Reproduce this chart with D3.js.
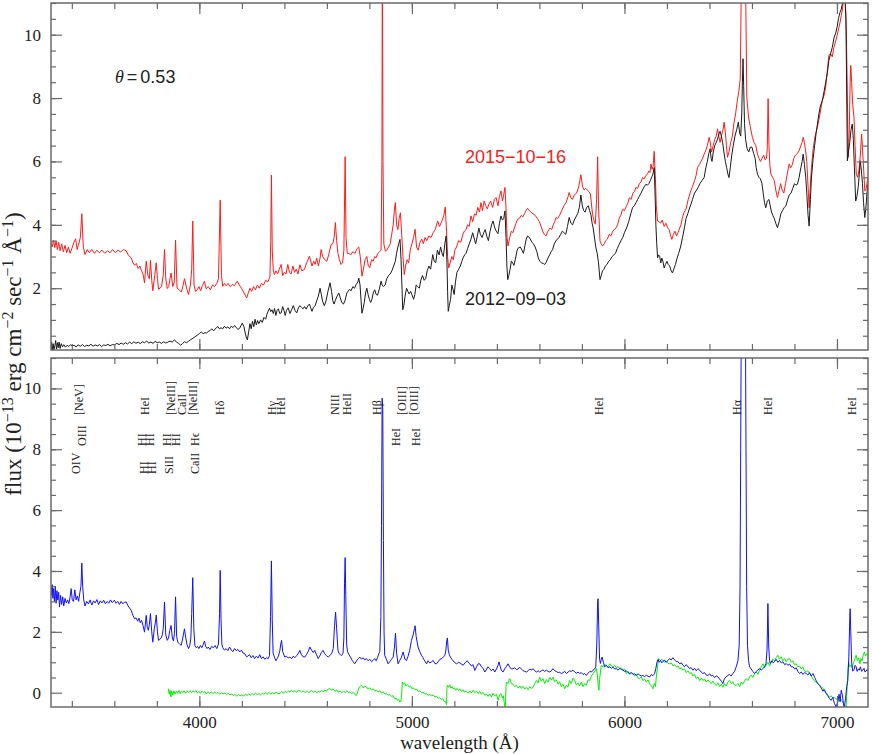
<!DOCTYPE html>
<html><head><meta charset="utf-8">
<script src="https://cdn.jsdelivr.net/npm/d3@7"></script>
<style>body{margin:0;background:#fff}svg{display:block}</style>
</head><body><svg id="c" width="872" height="754"></svg>
<script>
// ---------------- data (wavelength Å, flux 1e-13) ----------------
const spec2015 = [[3302,3.45],[3308,3.30],[3314,3.52],[3320,3.28],[3326,3.50],[3332,3.22],[3338,3.45],[3345,3.18],[3352,3.40],[3360,3.15],[3368,3.35],[3376,3.12],[3384,3.30],[3392,3.10],[3400,3.25],[3410,3.45],[3418,3.56],[3425,3.22],[3432,3.39],[3440,3.60],[3447,4.35],[3454,3.30],[3462,3.06],[3472,3.22],[3482,3.12],[3494,3.22],[3506,3.10],[3518,3.20],[3530,3.12],[3542,3.20],[3555,3.10],[3568,3.18],[3580,3.12],[3592,3.22],[3605,3.12],[3618,3.20],[3630,3.14],[3642,3.22],[3656,3.18],[3665,3.05],[3679,2.96],[3688,2.80],[3695,2.73],[3704,2.78],[3712,2.62],[3720,2.70],[3728,2.55],[3735,2.45],[3742,2.17],[3750,2.85],[3758,2.40],[3765,2.30],[3770,2.88],[3776,2.25],[3781,1.92],[3790,2.40],[3797,2.80],[3803,2.30],[3808,1.97],[3815,2.00],[3822,2.05],[3830,2.40],[3836,3.22],[3842,2.30],[3849,1.99],[3856,2.05],[3862,2.30],[3867,2.48],[3875,2.05],[3882,2.20],[3888,3.52],[3895,2.00],[3905,1.95],[3915,1.88],[3922,2.05],[3930,2.30],[3940,2.00],[3949,1.80],[3958,2.10],[3964,2.60],[3969,4.12],[3975,2.10],[3982,1.90],[3990,1.95],[3998,2.05],[4006,1.92],[4014,2.08],[4024,2.22],[4032,1.98],[4042,2.05],[4052,1.95],[4062,2.10],[4072,2.05],[4082,2.15],[4090,2.30],[4098,4.78],[4104,2.40],[4110,2.06],[4118,2.15],[4126,2.08],[4135,2.15],[4145,2.05],[4155,2.12],[4165,2.08],[4178,2.22],[4188,2.10],[4198,2.00],[4210,1.85],[4218,1.75],[4223,1.69],[4230,1.85],[4238,2.00],[4246,1.90],[4255,2.05],[4264,1.95],[4273,2.10],[4282,2.00],[4292,2.15],[4302,2.10],[4312,2.25],[4322,2.20],[4332,2.35],[4336,3.5],[4339,5.57],[4343,3.2],[4348,2.55],[4353,2.43],[4360,2.55],[4368,2.45],[4376,2.60],[4385,2.75],[4392,2.40],[4400,2.50],[4408,2.45],[4416,2.75],[4424,2.50],[4432,2.45],[4440,2.70],[4448,2.50],[4456,2.60],[4464,2.45],[4473,2.74],[4482,2.55],[4494,2.59],[4505,2.80],[4518,3.01],[4530,2.70],[4538,2.85],[4545,2.75],[4552,2.95],[4560,2.70],[4568,2.95],[4573,3.22],[4580,3.00],[4590,2.90],[4600,2.85],[4610,3.10],[4620,3.38],[4628,3.40],[4634,3.60],[4640,4.07],[4646,3.50],[4652,3.10],[4659,2.90],[4666,2.75],[4674,2.80],[4680,3.20],[4686,6.15],[4690,3.60],[4696,3.10],[4704,3.10],[4712,3.05],[4722,3.15],[4732,3.10],[4742,3.25],[4750,3.30],[4757,3.00],[4765,2.38],[4772,2.60],[4780,2.90],[4788,3.00],[4795,2.70],[4802,2.65],[4810,2.90],[4818,2.85],[4825,3.00],[4831,2.96],[4840,3.10],[4848,3.15],[4855,3.20],[4859,6],[4861,13],[4864,6],[4868,3.40],[4875,3.17],[4882,3.20],[4890,3.30],[4898,3.40],[4905,3.70],[4912,4.00],[4918,4.50],[4922,4.70],[4928,4.00],[4934,3.85],[4940,4.20],[4946,4.38],[4952,3.70],[4958,3.00],[4964,2.43],[4970,2.70],[4978,2.90],[4985,2.80],[4992,3.20],[5000,3.40],[5008,3.60],[5015,3.86],[5022,3.30],[5030,3.20],[5038,3.45],[5046,3.55],[5054,3.40],[5062,3.60],[5070,3.50],[5080,3.65],[5090,3.60],[5100,3.75],[5110,3.85],[5121,4.12],[5130,3.95],[5140,4.10],[5150,4.30],[5157,4.56],[5163,3.80],[5168,3.00],[5173,2.64],[5180,2.80],[5188,3.00],[5195,2.90],[5202,3.20],[5210,3.30],[5220,3.50],[5230,3.45],[5240,3.70],[5247,3.80],[5255,3.85],[5262,4.00],[5270,3.95],[5278,4.28],[5286,4.10],[5295,4.35],[5302,4.30],[5310,4.55],[5318,4.40],[5325,4.70],[5332,4.45],[5340,4.75],[5348,4.60],[5355,4.50],[5362,4.65],[5370,4.75],[5380,4.55],[5388,4.80],[5396,4.86],[5405,4.60],[5412,4.90],[5419,5.07],[5426,4.75],[5432,4.95],[5438,5.18],[5443,4.50],[5448,3.60],[5452,3.33],[5460,3.60],[5468,3.80],[5475,3.75],[5482,3.90],[5490,4.05],[5497,4.17],[5505,4.20],[5515,4.30],[5522,4.25],[5530,4.35],[5537,4.45],[5544,4.52],[5552,4.45],[5560,4.40],[5570,4.35],[5580,4.30],[5590,4.20],[5600,4.10],[5608,3.95],[5615,3.80],[5623,3.70],[5631,3.65],[5640,3.80],[5650,3.90],[5658,3.85],[5665,4.00],[5672,4.10],[5678,4.23],[5686,4.20],[5695,4.30],[5705,4.45],[5715,4.60],[5725,4.70],[5733,4.85],[5740,5.02],[5748,4.85],[5755,4.80],[5765,4.95],[5775,5.00],[5785,5.20],[5795,5.58],[5803,5.20],[5810,5.10],[5818,5.15],[5825,5.10],[5833,5.05],[5840,4.97],[5850,4.33],[5858,4.10],[5863,4.02],[5869,4.8],[5874,6.15],[5878,4.6],[5885,3.49],[5891,3.40],[5897,3.33],[5905,3.40],[5912,3.50],[5920,3.55],[5928,3.70],[5936,3.65],[5945,3.80],[5953,3.85],[5960,3.90],[5968,4.00],[5975,4.20],[5983,4.30],[5991,4.49],[6000,4.45],[6010,4.60],[6017,4.70],[6023,4.86],[6031,4.80],[6040,5.00],[6047,5.05],[6054,5.18],[6062,5.15],[6070,5.30],[6078,5.35],[6085,5.49],[6093,5.45],[6100,5.55],[6108,5.60],[6115,5.70],[6120,5.65],[6125,5.92],[6130,5.75],[6135,5.85],[6140,6.32],[6145,5.60],[6150,4.60],[6156,4.12],[6163,4.10],[6170,4.05],[6178,4.15],[6187,3.95],[6195,4.05],[6203,3.91],[6210,3.85],[6216,3.70],[6223,3.54],[6230,3.70],[6238,3.80],[6245,3.65],[6252,3.75],[6260,3.90],[6266,4.00],[6273,4.23],[6281,4.40],[6290,4.50],[6300,4.80],[6312,5.07],[6320,5.20],[6330,5.40],[6337,5.55],[6344,5.81],[6352,5.90],[6360,6.00],[6368,6.10],[6375,6.23],[6383,6.35],[6390,6.50],[6399,6.76],[6405,6.55],[6410,6.30],[6418,6.50],[6425,6.70],[6432,6.80],[6438,7.03],[6444,6.80],[6450,6.60],[6458,6.85],[6464,7.00],[6469,7.24],[6475,6.90],[6480,6.50],[6485,6.13],[6492,6.30],[6500,6.60],[6508,6.80],[6515,7.20],[6523,7.50],[6531,7.92],[6538,8.20],[6545,8.60],[6549,11],[6553,16],[6566,16],[6571,11],[6576,8.0],[6584,7.40],[6592,7.10],[6602,6.76],[6610,6.60],[6618,6.50],[6626,6.23],[6633,6.10],[6640,6.00],[6648,6.10],[6655,6.20],[6662,6.05],[6668,6.10],[6672,6.40],[6676,7.98],[6680,6.50],[6684,5.90],[6689,5.60],[6697,5.50],[6705,5.40],[6712,5.10],[6720,4.86],[6728,5.10],[6735,5.30],[6742,5.10],[6750,5.00],[6758,5.30],[6766,5.60],[6775,5.92],[6782,5.80],[6790,5.90],[6797,6.10],[6805,6.20],[6814,6.25],[6822,6.34],[6830,6.50],[6836,6.60],[6841,6.76],[6847,6.60],[6853,6.30],[6858,6.00],[6864,5.20],[6869,4.54],[6874,5.20],[6880,5.80],[6888,6.40],[6897,6.80],[6908,7.08],[6920,7.50],[6931,7.92],[6940,8.10],[6947,8.35],[6955,8.90],[6962,9.35],[6970,9.40],[6978,9.30],[6986,9.61],[6994,9.80],[7001,9.98],[7008,10.20],[7015,10.40],[7020,10.60],[7025,10.78],[7031,11.10],[7037,11.30],[7041,10.80],[7044,10.14],[7048,8.50],[7053,6.13],[7058,7.00],[7062,8.50],[7065,9.03],[7069,8.50],[7074,7.80],[7080,7.40],[7085,6.50],[7091,5.60],[7097,5.50],[7103,5.70],[7110,6.20],[7116,6.87],[7121,6.30],[7126,5.70],[7131,5.07],[7136,5.10],[7141,5.30],[7146,5.50]];

const spec2012 = [[3302,0.05],[3305,0.30],[3308,0.02],[3312,0.25],[3316,0.05],[3320,0.18],[3324,0.35],[3328,0.08],[3332,0.28],[3336,0.12],[3340,0.30],[3345,0.10],[3350,0.25],[3356,0.15],[3362,0.22],[3370,0.14],[3378,0.20],[3386,0.16],[3394,0.22],[3402,0.17],[3410,0.20],[3420,0.15],[3430,0.21],[3440,0.17],[3450,0.22],[3460,0.16],[3470,0.20],[3480,0.18],[3490,0.23],[3500,0.17],[3510,0.21],[3520,0.18],[3530,0.22],[3540,0.16],[3550,0.21],[3560,0.19],[3570,0.23],[3580,0.18],[3590,0.22],[3601,0.21],[3612,0.26],[3622,0.22],[3632,0.27],[3642,0.23],[3652,0.28],[3662,0.24],[3672,0.30],[3682,0.25],[3692,0.31],[3702,0.26],[3712,0.30],[3722,0.25],[3732,0.31],[3742,0.28],[3752,0.33],[3762,0.27],[3772,0.30],[3782,0.26],[3792,0.32],[3802,0.28],[3812,0.30],[3822,0.26],[3832,0.31],[3842,0.27],[3852,0.30],[3862,0.33],[3872,0.30],[3883,0.37],[3892,0.30],[3902,0.26],[3912,0.20],[3920,0.25],[3930,0.31],[3940,0.28],[3950,0.33],[3960,0.38],[3970,0.42],[3980,0.47],[3993,0.53],[4002,0.58],[4010,0.62],[4018,0.56],[4026,0.60],[4034,0.58],[4042,0.64],[4050,0.66],[4058,0.72],[4066,0.66],[4074,0.70],[4080,0.76],[4087,0.79],[4094,0.72],[4102,0.75],[4110,0.72],[4118,0.80],[4126,0.74],[4134,0.78],[4142,0.72],[4150,0.80],[4158,0.76],[4166,0.82],[4174,0.75],[4182,0.70],[4189,0.73],[4196,0.82],[4202,0.90],[4210,0.78],[4216,0.58],[4222,0.42],[4226,0.37],[4232,0.62],[4238,0.88],[4244,0.72],[4250,0.96],[4256,0.78],[4262,1.02],[4268,0.84],[4274,0.98],[4280,0.88],[4288,1.00],[4296,0.92],[4304,1.08],[4312,1.02],[4318,1.18],[4324,1.28],[4330,1.37],[4336,1.26],[4342,1.32],[4348,1.20],[4354,1.36],[4360,1.14],[4366,1.30],[4372,1.35],[4378,1.20],[4385,1.22],[4392,1.42],[4398,1.30],[4404,1.14],[4410,1.30],[4418,1.38],[4426,1.20],[4434,1.32],[4442,1.45],[4450,1.30],[4458,1.22],[4466,1.38],[4473,1.45],[4480,1.40],[4488,1.35],[4495,1.42],[4502,1.34],[4510,1.44],[4518,1.50],[4524,1.38],[4530,1.27],[4537,1.40],[4545,1.45],[4552,1.60],[4560,1.75],[4568,2.00],[4574,1.80],[4580,1.58],[4588,1.45],[4596,1.60],[4605,1.90],[4615,2.17],[4622,1.90],[4628,1.60],[4634,1.50],[4640,1.62],[4648,1.75],[4656,1.85],[4663,1.70],[4670,1.55],[4678,1.50],[4685,1.60],[4694,1.85],[4706,1.96],[4714,1.92],[4722,2.05],[4730,2.00],[4738,2.12],[4746,2.20],[4750,2.32],[4756,2.10],[4761,1.60],[4765,1.21],[4770,1.35],[4776,1.55],[4782,1.85],[4788,2.00],[4794,1.80],[4800,1.65],[4806,1.55],[4812,1.65],[4818,1.85],[4825,1.95],[4832,1.80],[4838,1.78],[4846,1.95],[4855,2.22],[4860,2.10],[4866,2.05],[4874,2.10],[4882,2.30],[4890,2.40],[4898,2.45],[4906,2.55],[4914,2.70],[4922,2.85],[4928,3.10],[4933,3.27],[4938,3.40],[4944,3.54],[4949,2.90],[4953,2.10],[4957,1.32],[4962,1.45],[4968,1.75],[4975,2.00],[4981,1.90],[4987,1.82],[4994,1.90],[5000,1.80],[5008,1.65],[5014,1.80],[5020,2.10],[5028,2.05],[5035,2.00],[5042,2.25],[5050,2.40],[5058,2.25],[5065,2.30],[5072,2.55],[5080,2.70],[5088,2.60],[5098,3.06],[5105,2.85],[5112,2.80],[5120,3.20],[5128,3.05],[5135,3.30],[5142,3.10],[5148,3.00],[5155,3.40],[5161,3.65],[5165,2.80],[5168,1.90],[5171,1.27],[5176,1.45],[5182,1.65],[5188,2.10],[5194,1.95],[5199,1.80],[5205,2.20],[5212,2.50],[5220,2.60],[5228,2.70],[5235,2.85],[5241,2.96],[5248,3.05],[5255,3.10],[5262,3.25],[5270,3.40],[5278,3.55],[5286,3.75],[5294,3.55],[5300,3.40],[5308,3.65],[5315,3.90],[5322,3.70],[5330,3.60],[5338,3.75],[5345,3.85],[5352,3.65],[5360,3.50],[5368,3.80],[5375,4.00],[5382,4.12],[5390,3.90],[5397,3.80],[5405,3.72],[5412,4.05],[5419,4.28],[5426,4.15],[5432,4.20],[5438,4.44],[5443,3.60],[5447,2.70],[5451,2.27],[5456,2.40],[5462,2.60],[5468,2.85],[5474,2.80],[5480,2.72],[5488,2.95],[5495,3.20],[5502,3.28],[5510,3.30],[5518,3.20],[5525,3.10],[5532,3.35],[5538,3.55],[5544,3.65],[5550,3.62],[5557,3.55],[5565,3.45],[5572,3.40],[5580,3.30],[5588,3.15],[5595,2.95],[5602,2.85],[5610,2.80],[5618,2.78],[5625,2.75],[5632,2.82],[5640,2.95],[5648,3.05],[5655,3.15],[5662,3.22],[5670,3.40],[5677,3.49],[5685,3.55],[5692,3.60],[5700,3.70],[5708,3.80],[5716,3.75],[5724,3.70],[5732,3.95],[5740,4.23],[5748,4.05],[5756,4.00],[5764,4.15],[5772,4.25],[5780,4.35],[5788,4.55],[5795,4.94],[5802,4.60],[5808,4.45],[5815,4.40],[5822,4.55],[5830,4.60],[5836,4.45],[5842,4.33],[5848,4.05],[5853,3.90],[5860,3.55],[5866,3.27],[5872,3.10],[5878,2.80],[5885,2.27],[5891,2.40],[5897,2.55],[5904,2.60],[5910,2.70],[5918,2.75],[5926,2.85],[5934,2.90],[5942,3.00],[5950,3.05],[5958,3.10],[5966,3.25],[5975,3.38],[5984,3.50],[5992,3.60],[6000,3.75],[6010,3.90],[6020,4.10],[6030,4.35],[6038,4.54],[6046,4.60],[6055,4.70],[6062,4.80],[6070,4.90],[6078,5.00],[6085,5.10],[6093,5.20],[6101,5.28],[6108,5.25],[6115,5.30],[6122,5.40],[6128,5.50],[6134,5.60],[6140,5.81],[6144,5.00],[6148,4.00],[6152,3.40],[6156,2.96],[6161,3.05],[6166,3.00],[6171,2.80],[6176,2.95],[6181,2.85],[6187,2.64],[6193,2.75],[6200,2.85],[6206,2.75],[6213,2.70],[6220,2.55],[6226,2.48],[6232,2.60],[6240,2.75],[6248,2.95],[6255,3.10],[6264,3.30],[6273,3.59],[6282,3.90],[6290,4.20],[6298,4.35],[6305,4.50],[6313,4.65],[6320,4.80],[6330,5.00],[6340,5.10],[6348,5.20],[6355,5.30],[6365,5.40],[6375,5.49],[6383,5.80],[6390,6.00],[6397,6.25],[6403,6.40],[6408,6.10],[6412,6.00],[6418,6.30],[6425,6.50],[6432,6.60],[6438,6.70],[6445,6.87],[6450,6.95],[6456,6.80],[6462,6.60],[6468,6.30],[6475,6.00],[6481,5.80],[6487,5.60],[6492,5.49],[6498,5.80],[6505,6.20],[6512,6.50],[6520,6.80],[6528,7.00],[6536,7.24],[6542,6.90],[6547,6.80],[6552,7.50],[6555,8.50],[6558,9.24],[6561,8.40],[6565,7.20],[6570,6.70],[6577,6.40],[6585,6.30],[6592,6.45],[6600,6.45],[6608,6.25],[6615,6.10],[6620,5.80],[6626,5.60],[6633,5.50],[6640,5.45],[6647,5.30],[6653,5.00],[6659,4.70],[6665,4.54],[6672,4.75],[6680,4.80],[6686,4.60],[6692,4.40],[6698,4.30],[6705,4.20],[6712,4.05],[6720,3.91],[6728,4.10],[6736,4.35],[6744,4.45],[6752,4.55],[6760,4.60],[6768,4.80],[6776,4.95],[6784,5.00],[6792,5.15],[6800,5.30],[6807,5.25],[6814,5.28],[6822,5.50],[6830,5.80],[6836,6.00],[6841,6.23],[6847,5.90],[6853,5.50],[6858,5.00],[6864,4.30],[6869,3.96],[6875,4.80],[6880,5.50],[6888,6.10],[6895,6.50],[6902,6.90],[6908,7.18],[6915,7.50],[6922,7.75],[6931,7.92],[6939,8.20],[6947,8.50],[6955,8.80],[6962,9.19],[6970,9.40],[6978,9.60],[6986,9.90],[6994,10.05],[7001,10.25],[7007,10.51],[7014,10.70],[7020,10.80],[7026,11.00],[7032,11.20],[7038,11.10],[7042,10.50],[7046,8.00],[7049,6.02],[7054,6.30],[7060,6.60],[7066,7.00],[7072,7.18],[7077,6.70],[7082,5.80],[7088,4.75],[7094,4.90],[7100,5.20],[7105,5.60],[7110,6.02],[7115,5.70],[7120,5.30],[7125,4.70],[7131,4.23],[7137,4.60],[7141,5.00],[7146,5.30]];

const specBlue = [[3302,3.47],[3305,3.20],[3308,3.55],[3311,3.10],[3314,3.42],[3318,3.00],[3322,3.50],[3326,2.94],[3330,3.35],[3334,3.05],[3338,3.30],[3342,2.82],[3347,3.20],[3352,2.90],[3357,3.15],[3362,2.85],[3368,3.10],[3374,2.95],[3380,3.05],[3386,2.93],[3392,3.15],[3397,3.42],[3402,3.05],[3408,3.00],[3414,3.38],[3420,3.05],[3426,3.18],[3432,3.00],[3438,3.30],[3443,3.50],[3447,4.26],[3451,3.50],[3456,3.05],[3462,2.85],[3470,3.00],[3478,2.92],[3486,3.05],[3494,2.88],[3502,3.02],[3510,2.95],[3518,3.06],[3526,2.90],[3534,3.02],[3542,2.95],[3550,3.04],[3558,2.92],[3566,3.00],[3574,2.94],[3582,3.05],[3590,2.96],[3600,3.04],[3608,2.94],[3616,3.00],[3624,2.90],[3632,3.00],[3640,2.92],[3648,2.98],[3656,2.98],[3664,2.86],[3672,2.78],[3679,2.71],[3687,2.55],[3695,2.43],[3702,2.46],[3710,2.35],[3716,2.45],[3722,2.30],[3728,2.38],[3735,2.21],[3742,1.99],[3750,2.54],[3755,2.15],[3760,2.05],[3765,2.25],[3770,2.60],[3776,2.00],[3781,1.66],[3788,2.10],[3793,2.30],[3797,2.55],[3803,2.00],[3808,1.72],[3814,1.75],[3820,1.80],[3826,1.90],[3830,2.10],[3836,2.98],[3842,1.90],[3849,1.72],[3855,1.80],[3861,2.05],[3867,2.21],[3873,1.80],[3878,1.70],[3883,1.95],[3888,3.15],[3893,1.85],[3899,1.65],[3905,1.62],[3910,1.58],[3915,1.56],[3922,1.80],[3930,2.10],[3936,1.80],[3942,1.58],[3949,1.45],[3955,1.55],[3960,1.80],[3964,2.60],[3969,3.78],[3974,2.10],[3979,1.55],[3985,1.48],[3992,1.52],[3998,1.45],[4005,1.55],[4012,1.48],[4018,1.58],[4024,1.70],[4030,1.52],[4036,1.45],[4042,1.50],[4050,1.42],[4058,1.52],[4066,1.48],[4074,1.55],[4082,1.45],[4090,1.60],[4095,2.60],[4098,4.02],[4102,2.40],[4106,1.60],[4110,1.48],[4118,1.40],[4126,1.45],[4134,1.38],[4142,1.50],[4150,1.40],[4158,1.35],[4166,1.45],[4174,1.38],[4182,1.42],[4190,1.34],[4198,1.40],[4206,1.30],[4214,1.28],[4222,1.18],[4228,1.20],[4236,1.25],[4244,1.15],[4252,1.22],[4260,1.12],[4268,1.20],[4276,1.14],[4284,1.25],[4292,1.12],[4300,1.18],[4308,1.10],[4316,1.15],[4324,1.12],[4330,1.22],[4335,2.50],[4339,4.33],[4343,2.40],[4347,1.30],[4353,1.17],[4360,1.05],[4366,1.12],[4372,1.20],[4379,1.39],[4383,1.60],[4387,1.72],[4392,1.35],[4402,1.17],[4410,1.20],[4418,1.14],[4426,1.17],[4434,1.12],[4442,1.20],[4449,1.15],[4458,1.22],[4466,1.30],[4473,1.39],[4480,1.25],[4488,1.18],[4496,1.17],[4504,1.25],[4512,1.35],[4520,1.50],[4528,1.40],[4536,1.32],[4543,1.39],[4551,1.25],[4559,1.12],[4566,1.20],[4574,1.32],[4582,1.39],[4590,1.28],[4598,1.22],[4606,1.17],[4614,1.22],[4622,1.28],[4630,1.45],[4636,2.20],[4641,2.65],[4646,2.10],[4652,1.40],[4658,1.28],[4664,1.25],[4669,1.22],[4676,1.30],[4680,1.80],[4683,3.60],[4686,4.44],[4689,3.20],[4693,1.60],[4697,1.35],[4704,1.25],[4711,1.17],[4720,1.05],[4731,0.95],[4740,1.05],[4748,1.12],[4755,1.17],[4763,1.10],[4770,1.15],[4778,1.08],[4786,1.12],[4794,1.05],[4802,1.10],[4810,1.02],[4817,1.06],[4825,1.12],[4832,1.05],[4838,1.15],[4844,1.28],[4849,1.35],[4854,2.50],[4857,5.50],[4860,9.68],[4863,9.30],[4866,5.00],[4869,2.00],[4872,1.23],[4880,1.10],[4888,0.95],[4896,1.02],[4904,1.10],[4912,1.17],[4918,1.50],[4923,1.96],[4928,1.30],[4935,0.95],[4942,1.05],[4950,1.15],[4959,1.34],[4967,1.10],[4975,1.06],[4982,1.20],[4990,1.40],[4998,1.72],[5006,1.90],[5012,2.10],[5015,2.20],[5020,1.85],[5029,1.50],[5037,1.35],[5045,1.23],[5052,1.15],[5060,1.05],[5069,0.95],[5076,1.05],[5084,0.98],[5092,1.01],[5100,1.06],[5108,0.96],[5116,0.95],[5124,1.02],[5132,1.10],[5140,1.12],[5147,1.17],[5155,1.22],[5160,1.40],[5164,1.70],[5167,1.80],[5171,1.40],[5176,1.25],[5181,1.17],[5190,1.08],[5200,1.00],[5210,0.95],[5220,1.00],[5230,0.96],[5241,0.90],[5250,0.98],[5260,1.05],[5272,0.95],[5280,0.88],[5288,0.92],[5296,0.73],[5304,0.85],[5312,0.95],[5319,0.95],[5327,0.85],[5335,0.80],[5343,0.68],[5350,0.75],[5358,0.85],[5366,0.79],[5374,0.72],[5382,0.78],[5390,0.68],[5398,0.78],[5405,0.90],[5410,1.01],[5416,0.85],[5422,0.72],[5429,0.68],[5436,0.78],[5444,0.85],[5452,0.95],[5460,0.85],[5468,0.78],[5476,0.79],[5484,0.82],[5492,0.76],[5500,0.78],[5507,0.84],[5515,0.78],[5523,0.72],[5531,0.70],[5539,0.68],[5547,0.72],[5555,0.78],[5563,0.74],[5570,0.79],[5578,0.72],[5586,0.68],[5594,0.72],[5601,0.68],[5609,0.72],[5617,0.75],[5625,0.70],[5633,0.74],[5641,0.70],[5649,0.68],[5656,0.72],[5664,0.79],[5672,0.72],[5680,0.70],[5688,0.66],[5695,0.68],[5703,0.62],[5711,0.66],[5719,0.70],[5727,0.63],[5735,0.68],[5743,0.72],[5750,0.70],[5758,0.74],[5766,0.68],[5774,0.64],[5782,0.68],[5789,0.63],[5797,0.66],[5805,0.60],[5813,0.63],[5821,0.57],[5829,0.64],[5837,0.70],[5845,0.68],[5852,0.74],[5860,0.78],[5865,0.85],[5870,1.60],[5874,3.00],[5876,3.09],[5879,2.20],[5883,1.10],[5887,0.96],[5891,1.10],[5895,1.17],[5901,1.00],[5907,0.85],[5915,0.90],[5923,0.82],[5931,0.85],[5938,0.80],[5946,0.84],[5954,0.78],[5962,0.79],[5970,0.74],[5978,0.80],[5986,0.76],[5993,0.74],[6001,0.70],[6009,0.72],[6017,0.66],[6025,0.63],[6033,0.66],[6040,0.60],[6048,0.62],[6056,0.57],[6064,0.62],[6072,0.58],[6080,0.55],[6087,0.57],[6095,0.52],[6103,0.58],[6111,0.54],[6119,0.52],[6127,0.60],[6134,0.56],[6142,0.63],[6148,0.80],[6153,1.00],[6158,1.09],[6164,1.00],[6170,1.06],[6176,0.98],[6181,1.02],[6188,1.08],[6196,1.00],[6205,1.06],[6212,1.12],[6220,1.08],[6228,1.15],[6236,1.08],[6244,1.02],[6252,1.02],[6260,0.95],[6268,0.98],[6275,0.90],[6283,0.86],[6291,0.92],[6299,0.85],[6307,0.80],[6314,0.82],[6322,0.74],[6330,0.80],[6338,0.72],[6346,0.79],[6354,0.74],[6361,0.68],[6369,0.63],[6377,0.66],[6385,0.58],[6393,0.57],[6401,0.62],[6408,0.55],[6416,0.57],[6424,0.50],[6432,0.55],[6440,0.52],[6448,0.45],[6456,0.38],[6463,0.30],[6470,0.45],[6478,0.52],[6487,0.57],[6494,0.60],[6502,0.55],[6510,0.63],[6518,0.70],[6526,0.85],[6534,1.05],[6540,1.56],[6544,3.50],[6547,8.00],[6551,14.0],[6560,18.0],[6568,14.0],[6572,8.00],[6575,3.50],[6579,1.56],[6584,1.05],[6589,0.85],[6596,0.78],[6604,0.70],[6612,0.63],[6620,0.70],[6628,0.75],[6636,0.79],[6644,0.74],[6652,0.80],[6659,0.85],[6666,0.95],[6671,1.40],[6675,2.93],[6679,1.50],[6683,1.05],[6686,0.96],[6694,1.05],[6700,0.98],[6706,1.02],[6714,1.10],[6722,1.00],[6730,1.06],[6738,0.98],[6746,1.02],[6754,0.92],[6761,0.96],[6769,0.90],[6777,0.94],[6785,0.85],[6793,0.85],[6801,0.78],[6808,0.82],[6816,0.70],[6824,0.63],[6832,0.68],[6840,0.60],[6848,0.66],[6855,0.63],[6863,0.58],[6871,0.66],[6879,0.55],[6887,0.63],[6895,0.50],[6902,0.40],[6910,0.30],[6918,0.24],[6926,0.15],[6934,0.05],[6941,0.10],[6949,-0.03],[6957,-0.10],[6965,-0.20],[6973,-0.25],[6980,-0.15],[6988,-0.35],[6996,-0.47],[7004,-0.30],[7010,-0.05],[7015,-0.30],[7020,0.08],[7026,-0.10],[7031,-0.40],[7035,-0.47],[7040,-0.20],[7046,0.20],[7051,0.40],[7056,1.20],[7060,2.40],[7062,2.76],[7065,2.00],[7069,1.00],[7074,0.71],[7080,0.75],[7085,0.90],[7090,0.85],[7095,0.70],[7100,0.78],[7105,0.74],[7110,0.85],[7116,0.70],[7121,0.74],[7127,0.80],[7132,0.68],[7137,0.71],[7142,0.76],[7146,0.72]];

const specGreen = [[3854,0.13],[3858,-0.05],[3862,0.08],[3866,-0.14],[3870,0.05],[3875,-0.08],[3880,0.06],[3886,-0.04],[3892,0.05],[3898,-0.02],[3904,0.07],[3910,-0.03],[3916,0.05],[3922,0.00],[3928,0.06],[3935,-0.02],[3942,0.05],[3949,0.01],[3956,0.07],[3963,0.00],[3970,0.06],[3977,0.02],[3984,0.07],[3991,-0.01],[3998,0.04],[4005,-0.02],[4012,0.05],[4019,0.00],[4026,0.04],[4033,-0.04],[4040,0.03],[4048,-0.02],[4056,0.03],[4064,-0.03],[4072,0.02],[4080,-0.02],[4088,0.01],[4096,-0.05],[4104,0.00],[4112,-0.04],[4120,-0.01],[4128,-0.06],[4136,-0.02],[4144,-0.07],[4152,-0.04],[4160,-0.09],[4168,-0.06],[4176,-0.11],[4184,-0.06],[4192,-0.10],[4200,-0.07],[4208,-0.11],[4216,-0.05],[4224,-0.09],[4232,-0.04],[4240,-0.08],[4248,-0.03],[4256,-0.07],[4264,-0.02],[4272,-0.06],[4280,-0.03],[4288,-0.07],[4296,-0.02],[4304,-0.05],[4312,0.00],[4320,-0.04],[4328,0.01],[4336,-0.05],[4344,0.00],[4352,-0.04],[4360,0.02],[4368,-0.03],[4379,-0.03],[4388,0.04],[4396,-0.02],[4404,0.05],[4412,0.00],[4420,0.06],[4426,0.02],[4434,0.08],[4442,0.02],[4450,0.07],[4458,0.01],[4466,0.08],[4473,0.07],[4481,0.02],[4489,0.06],[4497,0.00],[4505,0.05],[4512,0.01],[4520,0.02],[4528,0.07],[4536,0.01],[4544,0.06],[4552,0.00],[4560,0.04],[4567,0.02],[4575,0.07],[4583,0.03],[4591,0.09],[4598,0.05],[4606,0.12],[4614,0.13],[4622,0.08],[4630,0.12],[4638,0.05],[4646,0.09],[4653,0.02],[4662,0.06],[4670,0.00],[4678,0.05],[4686,0.01],[4694,0.06],[4702,0.00],[4708,0.02],[4716,-0.03],[4724,0.01],[4732,-0.06],[4739,-0.09],[4746,0.05],[4752,0.18],[4758,0.22],[4763,0.24],[4770,0.16],[4778,0.21],[4786,0.19],[4794,0.12],[4802,0.16],[4810,0.09],[4818,0.13],[4826,0.06],[4833,0.07],[4841,0.03],[4849,0.06],[4857,-0.01],[4865,0.03],[4872,-0.04],[4880,-0.03],[4888,-0.08],[4896,-0.06],[4904,-0.12],[4912,-0.10],[4919,-0.20],[4926,-0.18],[4932,-0.25],[4938,-0.22],[4943,-0.31],[4948,-0.28],[4952,-0.05],[4955,0.35],[4960,0.28],[4966,0.32],[4972,0.22],[4978,0.27],[4982,0.24],[4988,0.18],[4994,0.22],[5000,0.13],[5006,0.16],[5014,0.10],[5022,0.12],[5030,0.04],[5037,0.06],[5045,0.00],[5053,0.02],[5061,-0.05],[5069,-0.03],[5077,-0.08],[5085,-0.06],[5092,-0.10],[5100,-0.08],[5108,-0.14],[5116,-0.12],[5124,-0.18],[5131,-0.16],[5138,-0.22],[5145,-0.20],[5150,-0.27],[5155,-0.31],[5160,-0.30],[5163,-0.40],[5165,0.15],[5167,0.24],[5172,0.18],[5178,0.26],[5184,0.15],[5190,0.20],[5194,0.13],[5200,0.16],[5206,0.08],[5212,0.14],[5220,0.07],[5226,0.12],[5233,0.04],[5240,0.10],[5247,0.02],[5257,0.05],[5265,-0.02],[5273,0.06],[5280,-0.01],[5288,0.08],[5296,0.00],[5304,0.05],[5312,-0.03],[5319,0.04],[5327,-0.05],[5335,0.01],[5343,-0.08],[5351,-0.05],[5358,-0.12],[5366,-0.04],[5374,-0.14],[5382,-0.02],[5390,-0.10],[5398,-0.06],[5406,-0.25],[5412,-0.08],[5418,-0.02],[5421,-0.05],[5426,-0.18],[5430,-0.10],[5434,-0.30],[5437,-0.47],[5440,-0.40],[5443,0.20],[5445,0.35],[5452,0.30],[5456,0.40],[5461,0.46],[5468,0.30],[5476,0.28],[5484,0.20],[5492,0.24],[5500,0.15],[5508,0.22],[5515,0.14],[5523,0.21],[5531,0.12],[5539,0.18],[5547,0.10],[5555,0.20],[5563,0.14],[5570,0.18],[5578,0.30],[5586,0.40],[5594,0.32],[5601,0.51],[5609,0.38],[5617,0.46],[5625,0.30],[5633,0.43],[5641,0.35],[5649,0.50],[5656,0.42],[5664,0.51],[5672,0.36],[5680,0.42],[5688,0.28],[5695,0.36],[5703,0.20],[5711,0.28],[5719,0.13],[5727,0.25],[5734,0.18],[5742,0.40],[5750,0.30],[5758,0.48],[5766,0.40],[5774,0.25],[5782,0.32],[5789,0.22],[5797,0.35],[5805,0.20],[5813,0.30],[5821,0.25],[5829,0.42],[5836,0.40],[5844,0.55],[5852,0.62],[5860,0.70],[5868,0.79],[5873,0.55],[5877,0.20],[5880,0.08],[5884,0.50],[5891,0.90],[5899,0.85],[5907,0.92],[5915,0.90],[5923,0.85],[5931,0.95],[5938,0.88],[5946,0.85],[5954,0.90],[5962,0.82],[5970,0.86],[5977,0.79],[5985,0.82],[5993,0.74],[6001,0.78],[6009,0.63],[6017,0.70],[6025,0.60],[6032,0.66],[6040,0.63],[6048,0.55],[6056,0.60],[6064,0.48],[6071,0.46],[6079,0.52],[6087,0.40],[6095,0.45],[6103,0.35],[6111,0.42],[6119,0.28],[6127,0.22],[6134,0.13],[6140,0.30],[6146,0.20],[6150,0.51],[6155,0.80],[6161,1.12],[6168,1.05],[6175,1.10],[6181,1.06],[6189,1.00],[6197,1.04],[6205,0.96],[6213,0.95],[6221,0.98],[6228,0.88],[6236,0.92],[6244,0.85],[6252,0.88],[6260,0.78],[6268,0.82],[6275,0.74],[6283,0.78],[6291,0.66],[6299,0.72],[6307,0.63],[6315,0.66],[6322,0.55],[6330,0.60],[6338,0.46],[6346,0.52],[6354,0.40],[6362,0.48],[6369,0.40],[6377,0.45],[6385,0.35],[6393,0.42],[6401,0.35],[6409,0.30],[6416,0.38],[6424,0.28],[6432,0.24],[6440,0.32],[6448,0.20],[6456,0.28],[6463,0.18],[6471,0.30],[6479,0.22],[6487,0.35],[6495,0.40],[6503,0.30],[6510,0.36],[6518,0.25],[6526,0.24],[6534,0.30],[6542,0.20],[6550,0.35],[6557,0.28],[6565,0.38],[6573,0.46],[6581,0.40],[6589,0.52],[6597,0.58],[6604,0.50],[6612,0.62],[6620,0.68],[6628,0.60],[6636,0.75],[6644,0.85],[6652,0.95],[6659,0.82],[6667,0.90],[6675,1.00],[6683,0.88],[6691,1.00],[6698,1.10],[6706,1.05],[6714,1.15],[6722,1.23],[6730,1.10],[6738,1.18],[6745,1.05],[6753,1.12],[6761,1.02],[6769,1.10],[6777,1.12],[6785,1.00],[6793,1.04],[6800,0.92],[6808,0.95],[6816,0.85],[6824,0.88],[6832,0.78],[6839,0.85],[6847,0.72],[6855,0.68],[6863,0.72],[6871,0.63],[6879,0.55],[6887,0.45],[6894,0.40],[6902,0.35],[6910,0.30],[6918,0.25],[6926,0.20],[6933,0.15],[6941,0.05],[6949,0.00],[6957,-0.08],[6965,-0.14],[6973,-0.10],[6980,-0.18],[6988,-0.15],[6996,-0.22],[7004,-0.18],[7012,-0.28],[7020,-0.22],[7027,-0.31],[7035,-0.40],[7043,-0.47],[7048,0.20],[7052,0.80],[7055,1.01],[7060,0.85],[7066,0.90],[7071,0.82],[7076,0.95],[7082,1.05],[7086,1.15],[7090,1.23],[7096,1.05],[7102,1.15],[7108,0.95],[7113,1.12],[7118,1.05],[7124,1.25],[7129,1.34],[7134,1.20],[7139,1.28],[7145,1.22]];

const xMajorTicks = [4000, 5000, 6000, 7000];
const topYMajorTicks = [2, 4, 6, 8, 10];
const botYMajorTicks = [0, 2, 4, 6, 8, 10];

// emission-line identifications (label, wavelength of label column, row 1..3)
const lineLabelText = ["[NeV]","HeI","[NeIII]","CaII","[NeIII]","Hδ","Hγ","HeI","NIII","HeII","Hβ","[OIII]","[OIII]","HeI","Hα","HeI","HeI",
                       "OIII","HI","HI","HI","HI","Hϵ","HeI","HeI",
                       "OIV","HI","HI","SiII","CaII"];
const lineLabelWave = [3434,3742,3866,3916,3970,4094,4341,4383,4635,4694,4837,4952,5011,5879,6528,6676,7068,
                       3445,3730,3767,3847,3890,3979,4924,5018,
                       3420,3739,3777,3857,3979];
const lineLabelRow  = [1,1,1,1,1,1,1,1,1,1,1,1,1,1,1,1,1,
                       2,2,2,2,2,2,2,2,
                       3,3,3,3,3];
const dateLabels = ["2015−10−16", "2012−09−03"];
const thetaValue = "0.53";

// ---------------- layout ----------------
const L = 51, R = 868;
const topPanel = {t: 3, b: 350};
const botPanel = {t: 358, b: 707};
const frameColor = "#6a6a6a";
const serif = "'Liberation Serif', 'DejaVu Serif', serif";
const sans = "'Liberation Sans', Arial, sans-serif";

const svg = d3.select("#c");
const x = d3.scaleLinear().domain([3302, 7146]).range([L, R]);
const yTop = d3.scaleLinear().domain([0.05, 11]).range([topPanel.b, topPanel.t]);
const yBot = d3.scaleLinear().domain([-0.47, 11]).range([botPanel.b, botPanel.t]);

const defs = svg.append("defs");
[["clipTop", topPanel], ["clipBot", botPanel]].forEach(([id, p]) => {
  defs.append("clipPath").attr("id", id).append("rect")
    .attr("x", L).attr("y", p.t).attr("width", R - L).attr("height", p.b - p.t);
});

const xMinor = d3.range(3400, 7146, 200);

function styleAxis(g) {
  g.select(".domain").remove();
  g.selectAll(".tick line").attr("stroke", frameColor).attr("stroke-width", 1.2);
  g.selectAll(".tick text").attr("fill", "#222").style("font-family", serif).style("font-size", "17px");
}

function drawAxes(panel, y, yMajor, showX) {
  const yMinor = d3.range(0.5, 11.01, 0.5).filter(v => v >= y.domain()[0]);
  svg.append("g").attr("transform", `translate(0,${panel.b})`)
    .call(d3.axisBottom(x).tickValues(xMinor).tickSize(-6).tickSizeOuter(0).tickFormat("")).call(styleAxis);
  svg.append("g").attr("transform", `translate(0,${panel.b})`)
    .call(d3.axisBottom(x).tickValues(xMajorTicks).tickSize(-11).tickSizeOuter(0).tickPadding(9)
      .tickFormat(showX ? d3.format("d") : "")).call(styleAxis);
  svg.append("g").attr("transform", `translate(0,${panel.t})`)
    .call(d3.axisTop(x).tickValues(xMinor).tickSize(-6).tickSizeOuter(0).tickFormat("")).call(styleAxis);
  svg.append("g").attr("transform", `translate(0,${panel.t})`)
    .call(d3.axisTop(x).tickValues(xMajorTicks).tickSize(-11).tickSizeOuter(0).tickFormat("")).call(styleAxis);
  svg.append("g").attr("transform", `translate(${L},0)`)
    .call(d3.axisLeft(y).tickValues(yMinor).tickSize(-5).tickSizeOuter(0).tickFormat("")).call(styleAxis);
  svg.append("g").attr("transform", `translate(${L},0)`)
    .call(d3.axisLeft(y).tickValues(yMajor).tickSize(-11).tickSizeOuter(0).tickPadding(10).tickFormat(d3.format("d"))).call(styleAxis);
  svg.append("g").attr("transform", `translate(${R},0)`)
    .call(d3.axisRight(y).tickValues(yMinor).tickSize(-5).tickSizeOuter(0).tickFormat("")).call(styleAxis);
  svg.append("g").attr("transform", `translate(${R},0)`)
    .call(d3.axisRight(y).tickValues(yMajor).tickSize(-11).tickSizeOuter(0).tickFormat("")).call(styleAxis);
  svg.append("rect").attr("x", L).attr("y", panel.t).attr("width", R - L).attr("height", panel.b - panel.t)
    .attr("fill", "none").attr("stroke", frameColor).attr("stroke-width", 1.5);
}

function drawSpec(data, y, color, clip) {
  const line = d3.line().x(d => x(d[0])).y(d => y(d[1]));
  svg.append("path").datum(data).attr("d", line).attr("fill", "none")
    .attr("stroke", color).attr("stroke-width", 1).attr("stroke-linejoin", "round")
    .attr("clip-path", `url(#${clip})`);
}

drawSpec(spec2015, yTop, "#ff1a1a", "clipTop");
drawSpec(spec2012, yTop, "#1a1a1a", "clipTop");
drawAxes(topPanel, yTop, topYMajorTicks, false);

drawSpec(specGreen, yBot, "#00f000", "clipBot");
drawSpec(specBlue, yBot, "#1010ff", "clipBot");
drawAxes(botPanel, yBot, botYMajorTicks, true);

// annotations top panel
const th = svg.append("text").attr("x", 115).attr("y", 83)
  .style("font-family", sans).style("font-size", "18px").attr("fill", "#222");
th.append("tspan").text("θ").style("font-family", serif).style("font-style", "italic");
th.append("tspan").text("=").attr("dx", 3);
th.append("tspan").text(thetaValue).attr("dx", 3);

svg.append("text").attr("x", 465).attr("y", 162.5).text(dateLabels[0])
  .style("font-family", sans).style("font-size", "18px").attr("fill", "#ff1a1a");
svg.append("text").attr("x", 465).attr("y", 305).text(dateLabels[1])
  .style("font-family", sans).style("font-size", "18px").attr("fill", "#222");

// line identifications
const rowBase = {1: 415, 2: 446, 3: 474};
lineLabelText.forEach((t, i) => {
  svg.append("text")
    .attr("transform", `translate(${x(lineLabelWave[i])},${rowBase[lineLabelRow[i]]}) rotate(-90)`)
    .attr("dy", "0.35em").attr("text-anchor", "start")
    .style("font-family", serif).style("font-size", "12px").attr("fill", "#222")
    .text(t);
});

// axis titles
svg.append("text").attr("x", (L + R) / 2).attr("y", 749).attr("text-anchor", "middle")
  .style("font-family", serif).style("font-size", "19px").attr("fill", "#222").text("wavelength (Å)");

const yt = svg.append("text").attr("transform", "translate(21,354) rotate(-90)").attr("text-anchor", "middle")
  .style("font-family", serif).style("font-size", "23px").attr("fill", "#222");
const parts = [["flux (10", 0], ["−13", 1], [" erg cm", 0], ["−2", 1], [" sec", 0], ["−1", 1], [" Å", 0], ["−1", 1], [")", 0]];
let prevSup = 0;
parts.forEach(([s, sup]) => {
  const ts = yt.append("tspan").text(s);
  const dy = (sup ? -8 : 0) - (prevSup ? -8 : 0);
  if (dy) ts.attr("dy", dy);
  if (sup) ts.style("font-size", "16px");
  prevSup = sup;
});
</script></body></html>
